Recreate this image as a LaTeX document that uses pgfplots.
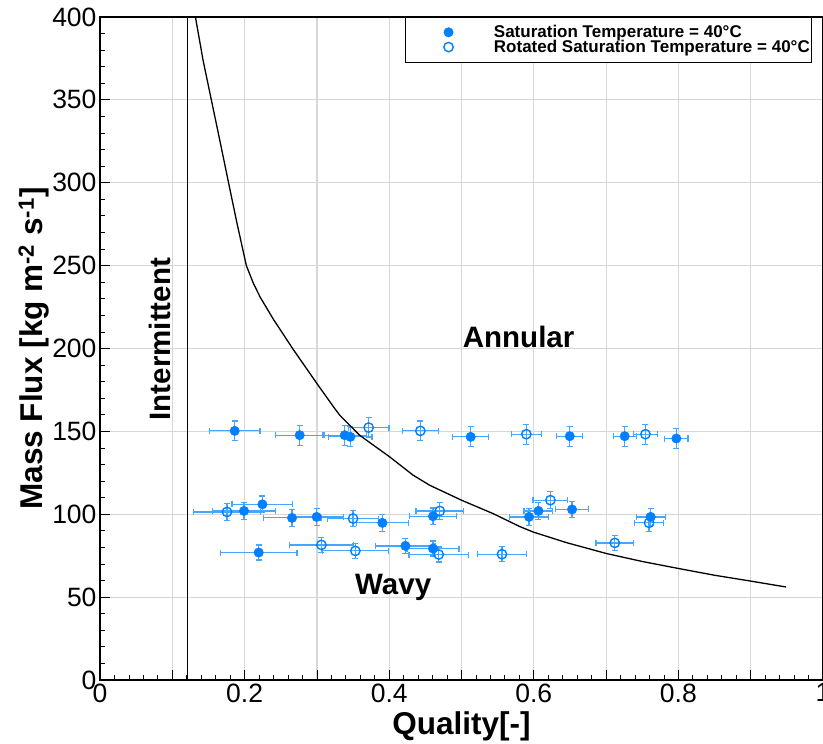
\documentclass[border=0pt]{standalone}
\usepackage{pgfplots}
\pgfplotsset{compat=1.18}
\usepackage{pgfplotstable}
\usepackage{fontspec}
\setmainfont{Liberation Sans}
\definecolor{mblue}{RGB}{0,128,255}
\definecolor{eblue}{RGB}{70,165,255}
\definecolor{gridgray}{RGB}{215,215,215}

\pgfplotstableread{
x y ex ey
0.1863 150.3 0.035 6
0.2762 147.7 0.034 6
0.3385 147.7 0.030 6
0.3463 146.7 0.030 6
0.5127 146.7 0.025 6
0.6497 147.1 0.018 6
0.7257 147.1 0.016 6
0.7972 145.7 0.016 6
0.1992 102.0 0.044 5
0.2246 106.0 0.042 5
0.2656 97.8 0.040 5
0.2997 98.4 0.037 5
0.3906 94.8 0.036 5
0.4606 98.8 0.032 5
0.5934 98.4 0.027 5
0.6064 102.0 0.020 5
0.6529 102.9 0.023 5
0.7617 98.4 0.020 5
0.2195 76.9 0.053 4.5
0.4224 80.9 0.041 4.5
0.4606 79.3 0.036 4.5
}\sat

\pgfplotstableread{
x y ex ey
0.3716 152.3 0.028 6
0.4431 150.3 0.025 6
0.5897 148.3 0.021 6
0.7544 148.3 0.017 6
0.1757 101.4 0.046 5
0.3500 97.4 0.035 5
0.4700 102.0 0.033 5
0.6230 108.5 0.024 5
0.7594 94.8 0.020 5
0.3062 81.5 0.044 4.5
0.3532 77.9 0.046 4.5
0.4685 75.7 0.041 4.5
0.5560 75.9 0.034 4.5
0.7120 82.7 0.026 4.5
}\rot

\begin{document}
\begin{tikzpicture}
\begin{axis}[
  scale only axis, width=723bp, height=663bp,
  xmin=0, xmax=1, ymin=0, ymax=400,
  xtick={0,0.1,0.2,0.3,0.4,0.5,0.6,0.7,0.8,0.9,1},
  xticklabels={0,,0.2,,0.4,,0.6,,0.8,,1},
  ytick={0,50,100,150,200,250,300,350,400},
  minor x tick num=4, minor y tick num=4,
  xtick pos=bottom, ytick pos=left,
  tick align=inside,
  major tick length=10bp, minor tick length=5bp,
  grid=major, major grid style={gridgray, line width=1.2bp},
  axis line style={line width=1.3bp},
  every tick/.style={black, line width=0.8bp},
  /pgf/number format/assume math mode=true,
  tick label style={font=\fontsize{26.5bp}{30bp}\selectfont},
  label style={font=\bfseries\fontsize{31.5bp}{36bp}\selectfont},
  xlabel={Quality[-]},
  ylabel={Mass Flux [kg m\textsuperscript{-2} s\textsuperscript{-1}]},
  xlabel style={at={(rel axis cs:0.5,0)}, anchor=center, yshift=-46bp},
  ylabel style={at={(rel axis cs:0,0.5)}, anchor=center, yshift=66bp},
  legend style={at={(rel axis cs:0.4215,1)}, anchor=north west, draw=black, line width=0.8bp,
    font=\bfseries\fontsize{17bp}{17bp}\selectfont, inner xsep=0bp, inner ysep=6bp, row sep=-3bp,
    /tikz/every even column/.append style={column sep=8bp}},
  legend cell align=left,
  legend image code/.code={\path (0bp,0bp) (86bp,0bp);\draw[mark repeat=2,mark phase=2,#1] plot coordinates {(0bp,0bp)(43bp,0bp)(86bp,0bp)};},
]
\addplot[only marks, mark=*, mark size=4.7bp, color=mblue, mark options={fill=mblue, draw=mblue, line width=0.5bp},
  error bars/.cd, x dir=both, x explicit, y dir=both, y explicit,
  error bar style={eblue, line width=1.2bp},
  error mark options={rotate=90, eblue, mark size=3bp, line width=1.2bp}]
  table[x=x, y=y, x error=ex, y error=ey] {\sat};
\addlegendentry{Saturation Temperature = 40°C}
\addplot[only marks, mark=o, mark size=4.7bp, color=mblue, mark options={draw=mblue, line width=1.4bp},
  error bars/.cd, x dir=both, x explicit, y dir=both, y explicit,
  error bar style={eblue, line width=1.2bp},
  error mark options={rotate=90, eblue, mark size=3bp, line width=1.2bp}]
  table[x=x, y=y, x error=ex, y error=ey] {\rot};
\addlegendentry{Rotated Saturation Temperature = 40°C}
\addplot[black, line width=1.3bp, no marks, forget plot] coordinates {
(0.132,400) (0.1425,374) (0.154,350) (0.1656,325.8) (0.178,299.6) (0.1895,275.5)
(0.2025,249.9) (0.2125,239) (0.2215,231) (0.240,217.5) (0.267,199.6) (0.299,179.5)
(0.3246,163.8) (0.3315,159.8) (0.359,147.7) (0.4007,134.6) (0.433,123.6) (0.456,117.5)
(0.4999,108.5) (0.5436,100.4) (0.5805,92.6) (0.599,89.3) (0.645,82.9) (0.7004,76.3)
(0.750,71.5) (0.801,67.2) (0.850,63.2) (0.901,59.6) (0.949,56.1)};
\addplot[black, line width=1.3bp, no marks, forget plot] coordinates {(0.121,0) (0.121,400)};
\node[font=\bfseries\fontsize{29.5bp}{30bp}\selectfont, rotate=90] at (axis cs:0.0826,205.6) {Intermittent};
\node[font=\bfseries\fontsize{29.5bp}{30bp}\selectfont] at (axis cs:0.579,206.8) {Annular};
\node[font=\bfseries\fontsize{29.5bp}{30bp}\selectfont] at (axis cs:0.4055,56) {Wavy};
\end{axis}
\pgfresetboundingbox
\path[use as bounding box] (-100bp,-64bp) rectangle (723bp,680bp);
\end{tikzpicture}
\end{document}
